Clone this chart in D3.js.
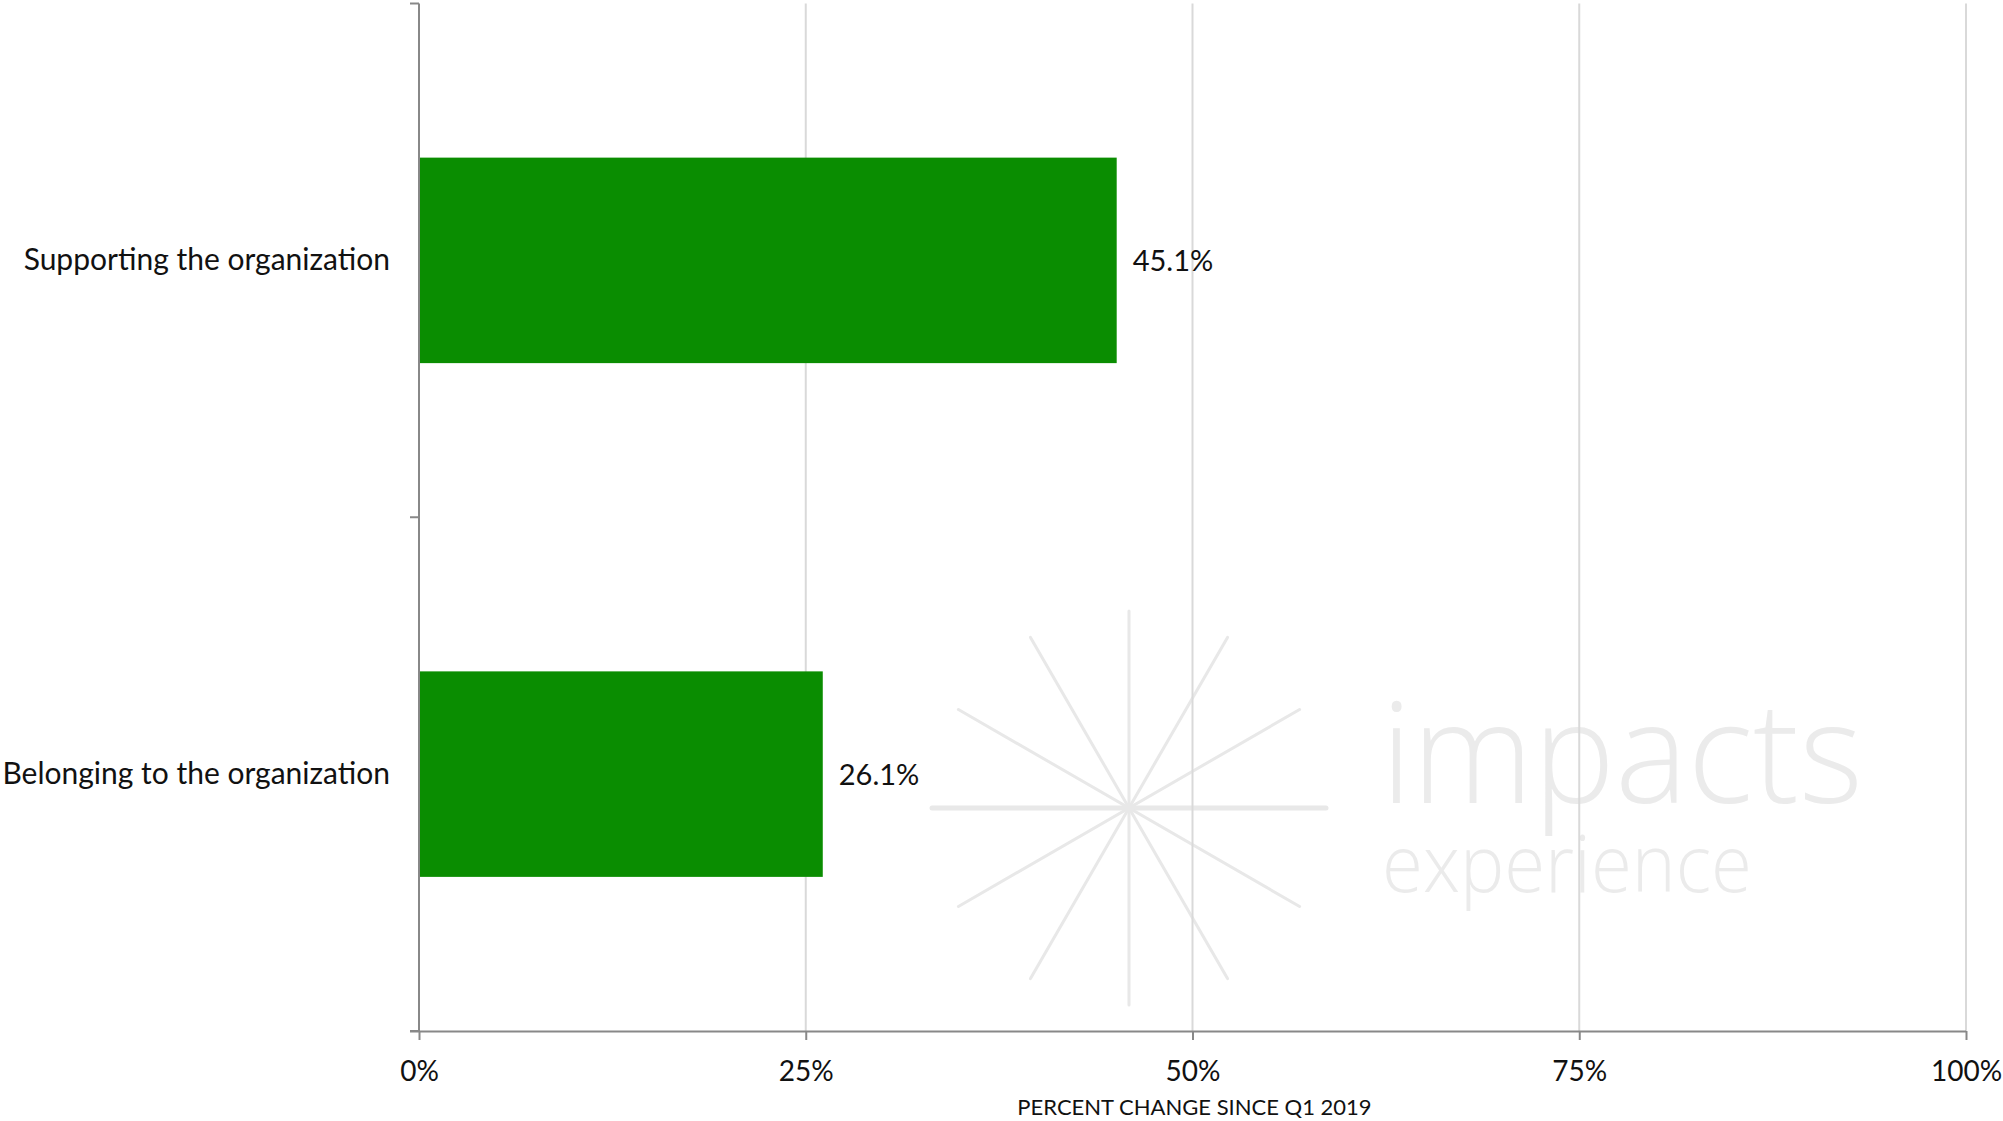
<!DOCTYPE html>
<html>
<head>
<meta charset="utf-8">
<script src="https://cdn.jsdelivr.net/npm/d3@7"></script>
<style>
  html, body { margin: 0; padding: 0; background: #fff; }
  svg { display: block; }
  text { font-family: Lato, "Open Sans", sans-serif; fill: #111; }
</style>
</head>
<body>
<svg id="chart" width="2003" height="1121"></svg>
<script>
// Data
const categories = ["Supporting the organization", "Belonging to the organization"];
const values = [45.1, 26.1];
const tickValues = [0, 25, 50, 75, 100];
const tickLabels = ["0%", "25%", "50%", "75%", "100%"];
const axisTitle = "PERCENT CHANGE SINCE Q1 2019";

const svg = d3.select("#chart");
const margin = { left: 419, right: 37, top: 3.5, bottom: 90 };
const W = 2003, H = 1121;

const x = d3.scaleLinear().domain([0, 100]).range([margin.left, W - margin.right]);
const y = d3.scaleBand().domain(categories)
  .range([margin.top, H - margin.bottom])
  .paddingInner(0.6).paddingOuter(0.3);

// Watermark logo (starburst + wordmark)
const wm = svg.append("g").attr("class", "watermark");
const cx = 1129, cy = 808, r = 197;
d3.range(6).forEach(i => {
  const a = i * Math.PI / 6;
  wm.append("line")
    .attr("x1", cx - r * Math.cos(a)).attr("y1", cy - r * Math.sin(a))
    .attr("x2", cx + r * Math.cos(a)).attr("y2", cy + r * Math.sin(a))
    .attr("stroke", "#e8e8e8")
    .attr("stroke-width", i === 0 ? 5 : 3)
    .attr("stroke-linecap", "round");
});
wm.append("text").text("impacts")
  .attr("x", 1381).attr("y", 803)
  .attr("textLength", 482).attr("lengthAdjust", "spacingAndGlyphs")
  .style("font-family", "'Open Sans', Lato, sans-serif")
  .style("font-weight", 300).style("font-size", "140px")
  .style("fill", "#ebebeb");
wm.append("text").text("experience")
  .attr("x", 1382).attr("y", 892)
  .attr("textLength", 370).attr("lengthAdjust", "spacingAndGlyphs")
  .style("font-family", "'Open Sans', Lato, sans-serif")
  .style("font-weight", 300).style("font-size", "80px")
  .style("fill", "#ebebeb");

// Vertical gridlines
svg.append("g").selectAll("line")
  .data(tickValues.filter(d => d > 0))
  .join("line")
  .attr("x1", d => x(d)).attr("x2", d => x(d))
  .attr("y1", margin.top).attr("y2", H - margin.bottom)
  .attr("stroke", "#d9d9d9").attr("stroke-width", 2);

// Bars
svg.append("g").selectAll("rect")
  .data(categories)
  .join("rect")
  .attr("x", x(0))
  .attr("y", d => y(d))
  .attr("width", (d, i) => x(values[i]) - x(0))
  .attr("height", y.bandwidth())
  .attr("fill", "#0a8d01");

// Value labels
svg.append("g").selectAll("text")
  .data(categories)
  .join("text")
  .attr("x", (d, i) => x(values[i]) + 16)
  .attr("y", d => y(d) + y.bandwidth() / 2)
  .attr("dy", "0.36em")
  .style("font-size", "29px")
  .text((d, i) => values[i].toFixed(1) + "%");

// Y axis
const yAxisBoundaries = [margin.top, margin.top + y.step(), H - margin.bottom];
const yAxis = svg.append("g");
yAxis.append("line")
  .attr("x1", x(0)).attr("x2", x(0))
  .attr("y1", margin.top).attr("y2", H - margin.bottom)
  .attr("stroke", "#888").attr("stroke-width", 2);
yAxis.selectAll("line.tick")
  .data(yAxisBoundaries)
  .join("line").attr("class", "tick")
  .attr("x1", x(0) - 9).attr("x2", x(0))
  .attr("y1", d => d).attr("y2", d => d)
  .attr("stroke", "#888").attr("stroke-width", 2);
yAxis.selectAll("text")
  .data(categories)
  .join("text")
  .attr("x", x(0) - 29)
  .attr("y", d => y(d) + y.bandwidth() / 2)
  .attr("dy", "0.32em")
  .attr("text-anchor", "end")
  .style("font-size", "30px")
  .text(d => d);

// X axis
const xAxis = svg.append("g")
  .attr("transform", `translate(0,${H - margin.bottom})`)
  .call(d3.axisBottom(x).tickValues(tickValues)
    .tickFormat((d, i) => tickLabels[i]).tickSize(9).tickPadding(21));
xAxis.select(".domain").attr("stroke", "#888").attr("stroke-width", 2)
  .attr("d", `M${x(0) - 9},0.5H${x(100)}`);
xAxis.selectAll(".tick line").attr("stroke", "#888").attr("stroke-width", 2);
xAxis.selectAll(".tick text")
  .style("font-family", "Lato, 'Open Sans', sans-serif")
  .style("font-size", "28px").attr("fill", "#111");

// Axis title
svg.append("text")
  .attr("x", (x(0) + x(100)) / 2 + 2)
  .attr("y", 1115)
  .attr("text-anchor", "middle")
  .style("font-size", "22px")
  .text(axisTitle);
</script>
</body>
</html>
